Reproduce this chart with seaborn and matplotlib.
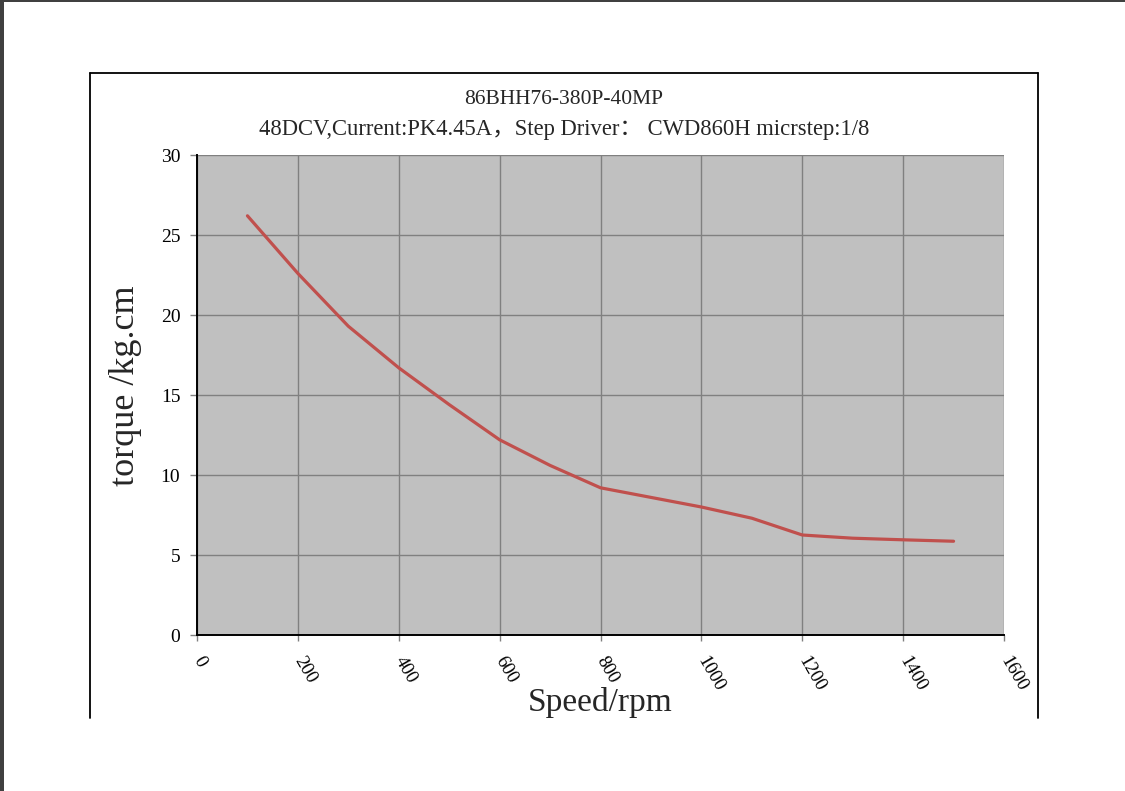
import matplotlib
matplotlib.use("Agg")
import matplotlib.pyplot as plt
from matplotlib.lines import Line2D
from matplotlib.patches import Rectangle
import seaborn as sns
import pandas as pd

# ---- data ----
speed_rpm = [100, 200, 300, 400, 500, 600, 700, 800, 900, 1000, 1100, 1200, 1300, 1400, 1500]
torque_kgcm = [26.2, 22.6, 19.3, 16.7, 14.4, 12.2, 10.6, 9.2, 8.6, 8.0, 7.3, 6.25, 6.05, 5.95, 5.86]
x_ticks = [0, 200, 400, 600, 800, 1000, 1200, 1400, 1600]
y_ticks = [0, 5, 10, 15, 20, 25, 30]
title_line1 = "86BHH76-380P-40MP"
title_line2 = "48DCV,Current:PK4.45A，Step Driver： CWD860H micrstep:1/8"
x_label = "Speed/rpm"
y_label = "torque /kg.cm"

df = pd.DataFrame({"speed": speed_rpm, "torque": torque_kgcm})

sns.set_style("ticks")
plt.rcParams['font.family'] = ['Liberation Serif', 'Noto Sans CJK SC', 'DejaVu Sans']

W, H = 1125, 791
fig = plt.figure(figsize=(W / 100, H / 100), dpi=100)
fig.patch.set_facecolor('white')

# page edges (dark strip at left, line on top)
fig.patches.append(Rectangle((0, 0), 4 / W, 1, transform=fig.transFigure,
                             facecolor='#404040', edgecolor='none'))
fig.patches.append(Rectangle((0, 1 - 2 / H), 1, 2 / H, transform=fig.transFigure,
                             facecolor='#404040', edgecolor='none'))


def fx(px):
    return px / W


def fy(py):
    return 1 - py / H


# chart frame (bottom cut off)
frame_kw = dict(color='black', lw=1.3, transform=fig.transFigure)
fig.add_artist(Line2D([fx(90), fx(90)], [fy(73), fy(718)], **frame_kw))
fig.add_artist(Line2D([fx(90), fx(1038)], [fy(73), fy(73)], **frame_kw))
fig.add_artist(Line2D([fx(1038), fx(1038)], [fy(73), fy(718)], **frame_kw))

ax = fig.add_axes([fx(197), fy(635), (1004 - 197) / W, (635 - 155) / H])
ax.set_facecolor('#C0C0C0')

sns.lineplot(data=df, x="speed", y="torque", ax=ax, color='#C0504D', lw=2.3,
             solid_capstyle='round', solid_joinstyle='round')

ax.set_xlim(0, 1600)
ax.set_ylim(0, 30)
ax.set_xticks(x_ticks)
ax.set_yticks(y_ticks)
ax.grid(True, color='#808080', lw=1.0)
ax.set_axisbelow(True)
ax.set_xlabel("")
ax.set_ylabel("")

for s in ['top', 'right']:
    ax.spines[s].set_visible(False)
for s in ['left', 'bottom']:
    ax.spines[s].set_color('black')
    ax.spines[s].set_linewidth(1.4)

ax.tick_params(axis='y', length=5, width=1, color='#808080', pad=7,
               labelsize=14, labelcolor='black')
ax.tick_params(axis='x', length=4, width=1, color='#808080', pad=12.5,
               labelsize=13.5, labelcolor='black')
ax.set_xticklabels([str(t) for t in x_ticks], rotation=-60, ha='left', va='center',
                   rotation_mode='anchor')

fig.text(fx(564), fy(100), title_line1, ha='center', va='center', fontsize=15.5)
fig.text(fx(564), fy(129), title_line2, ha='center', va='center', fontsize=16.3)
fig.text(fx(600), fy(702), x_label, ha='center', va='center', fontsize=24)
fig.text(fx(126), fy(386), y_label, ha='center', va='center', rotation=90, fontsize=26)

fig.savefig("out.png", dpi=100)
